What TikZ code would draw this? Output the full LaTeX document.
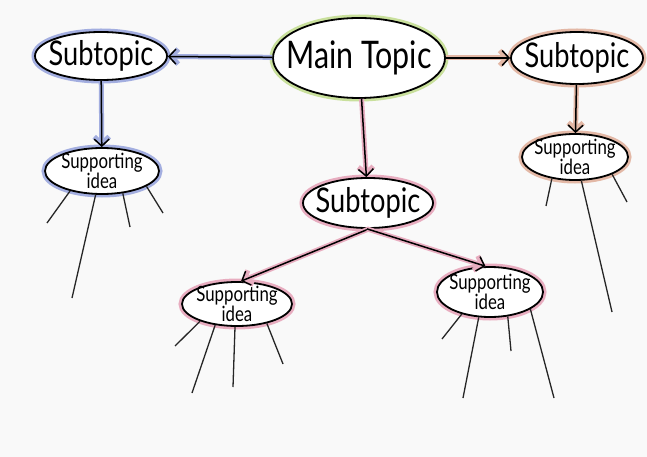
\documentclass[tikz,border=0pt]{standalone}
\usepackage{fontspec}
\newfontfamily\handfont[FakeStretch=0.8]{Lato}
\usepackage{tikz}
\usetikzlibrary{arrows.meta,shapes.geometric,positioning}
\definecolor{mapbg}{HTML}{F9F9F9}
\definecolor{mapgreen}{HTML}{C9E09C}
\definecolor{mapblue}{HTML}{A3AEE0}
\definecolor{mappeach}{HTML}{E3B8A6}
\definecolor{mappink}{HTML}{E8ADC0}
\tikzset{
  mapbubble/.style={ellipse,draw=black,line width=1.8pt,fill=white,inner sep=0pt,preaction={draw=#1,line width=7pt}},
  maptopic/.style={font=\handfont\fontsize{38}{40}\selectfont,inner sep=0pt},
  mapsub/.style={font=\handfont\fontsize{34}{36}\selectfont,inner sep=0pt},
  mapidea/.style={font=\handfont\fontsize{21}{15}\selectfont,inner sep=0pt,align=center},
  maplink/.style={-{Straight Barb[length=7pt,width=15pt]},draw=black,line width=1.5pt,preaction={draw=#1,line width=5pt}},
  mapleg/.style={draw=black!85,line width=1.3pt}
}
\begin{document}
\begin{tikzpicture}[x=1pt,y=-1pt]
\fill[mapbg] (0,0) rectangle (647,457);
\useasboundingbox (0,0) rectangle (647,457);
% bubbles
\node[mapbubble=mapgreen,minimum width=172pt,minimum height=80pt] (main) at (359,58) {};
\node[mapbubble=mapblue,minimum width=132pt,minimum height=48pt] (lsub) at (101,56) {};
\node[mapbubble=mappeach,minimum width=132pt,minimum height=52pt] (rsub) at (577,58) {};
\node[mapbubble=mappink,minimum width=130pt,minimum height=50pt] (mid) at (368,203) {};
\node[mapbubble=mapblue,minimum width=114pt,minimum height=46pt] (ls) at (102,171) {};
\node[mapbubble=mappeach,minimum width=106pt,minimum height=46pt] (rs) at (575,157) {};
\node[mapbubble=mappink,minimum width=110pt,minimum height=44pt] (bl) at (237,304) {};
\node[mapbubble=mappink,minimum width=106pt,minimum height=50pt] (br) at (490,292) {};
% texts
\node[maptopic] (maintxt) at (main) {Main Topic};
\node[mapsub] (lsubtxt) at (lsub) {Subtopic};
\node[mapsub] (rsubtxt) at (rsub) {Subtopic};
\node[mapsub] (midtxt) at (mid) {Subtopic};
\node[mapidea] (lstxt) at (ls) {Supporting\\idea};
\node[mapidea] (rstxt) at (rs) {Supporting\\idea};
\node[mapidea] (bltxt) at (bl) {Supporting\\idea};
\node[mapidea] (brtxt) at (br) {Supporting\\idea};
% links
\draw[maplink=mapblue] (main) -- (lsub);
\draw[maplink=mappeach] (main) -- (rsub);
\draw[maplink=mappink] (main) -- (mid);
\draw[maplink=mapblue] (lsub) -- (ls);
\draw[maplink=mappeach] (rsub) -- (rs);
\draw[maplink=mappink] (mid.-88) -- (bl.80);
\draw[maplink=mappink] (mid.-92) -- (br.100);
% legs
\foreach \b/\a/\p [count=\i] in {ls/-148/{47,223},ls/-105/{72,298},ls/-47/{130,227},ls/-19/{163,213},
  rs/-137/{546,206},rs/-75/{612,312},rs/-25/{627,202},
  bl/-155/{175,346},bl/-136/{192,393},bl/-95/{233,387},bl/-33/{283,364},
  br/-142/{442,339},br/-114/{463,398},br/-54/{511,351},br/-23/{554,398}}{
  \coordinate (\b-leg\i) at (\p);
  \draw[mapleg] (\b.\a) -- (\b-leg\i);
}
\end{tikzpicture}
\end{document}
